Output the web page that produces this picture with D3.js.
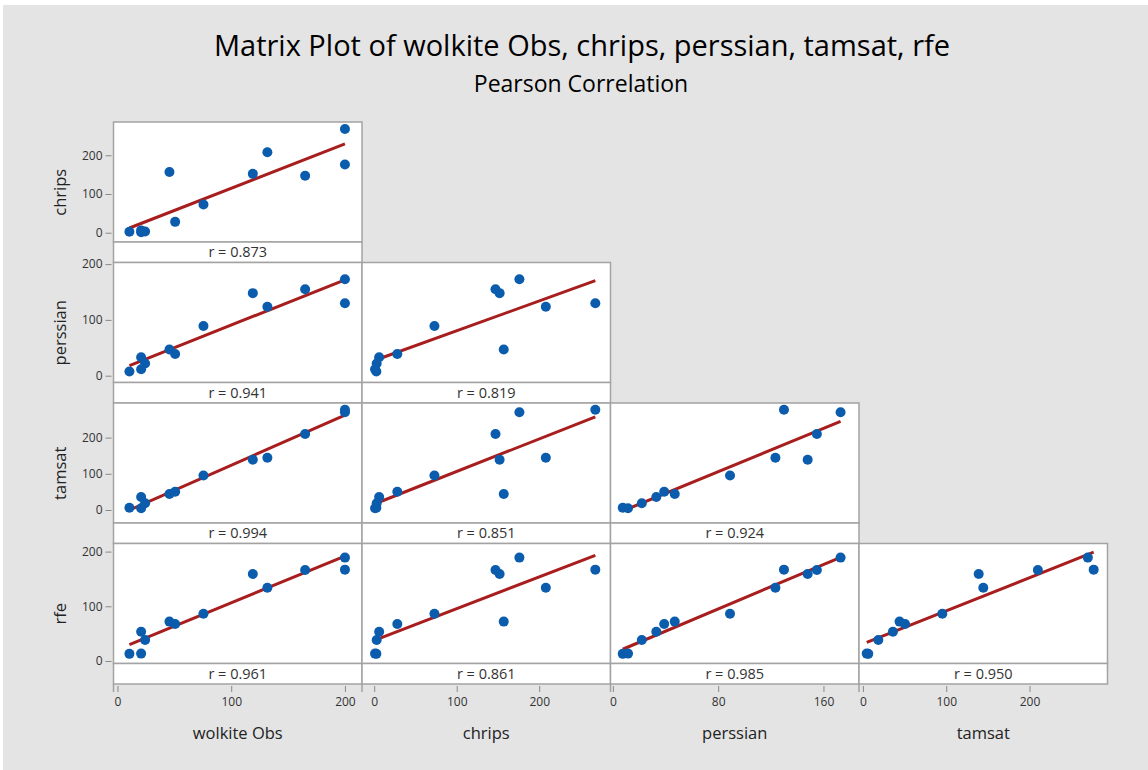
<!DOCTYPE html>
<html>
<head>
<meta charset="utf-8">
<script src="https://cdn.jsdelivr.net/npm/d3@7"></script>
<style>
  html, body { margin: 0; padding: 0; background: #fff; }
  text { font-family: "Open Sans", "Noto Sans", sans-serif; }
</style>
</head>
<body>
<div id="chart"></div>
<script>
// variables of the matrix plot
const varNames = ['wolkite Obs', 'chrips', 'perssian', 'tamsat', 'rfe'];

const wolkiteObs = [10.5, 20.8, 20.8, 24.3, 45.7, 50.7, 75.6, 119, 131.8, 165, 200, 200];
const chrips     = [2.6, 1, 6, 3, 157, 28, 73, 152, 208, 147, 176, 268];
const perssian   = [7.5, 11.5, 33, 22, 47, 39, 89, 148, 123.5, 155, 173, 130];
const tamsat     = [6.4, 4.6, 36, 18.5, 44, 50.6, 95.3, 139, 144.5, 210, 270, 277];
const rfe        = [13, 13.5, 53.6, 38.4, 72, 67.5, 86.5, 159, 134, 166.5, 189, 167];

// pearson r labels, row by row (lower triangle)
const rLabels = [
  ['0.873'],
  ['0.941', '0.819'],
  ['0.994', '0.851', '0.924'],
  ['0.961', '0.861', '0.985', '0.950']
];

// tick values: bottom axes per column, left axes per row
const xTicks = [
  [0, 100, 200],
  [0, 100, 200],
  [0, 80, 160],
  [0, 100, 200]
];
const yTicks = [
  null,
  [0, 100, 200],
  [0, 100, 200],
  [0, 100, 200],
  [0, 100, 200]
];

const series = [wolkiteObs, chrips, perssian, tamsat, rfe];

// axis domains (as minitab scaled them)
const xDomains = [[-3.5, 215], [-14.8, 286.4], [-1.8, 187], [-4.7, 293.6]];
const yDomains = [null, [-24, 286], [-12.2, 202.9], [-35.9, 295.6], [-4.6, 214.8]];

const width = 1148, height = 770;
const marginLeft = 113.5, marginTop = 122;
const colW = 248.5, rowH = 140.5, stripH = 20.5;
const plotH = rowH - stripH;

const svg = d3.select('#chart')
  .append('svg')
  .attr('width', width)
  .attr('height', height);

// background
svg.append('rect')
  .attr('x', 3).attr('y', 5)
  .attr('width', width - 3).attr('height', height - 5)
  .attr('fill', '#e4e4e4');

// titles
svg.append('text')
  .attr('x', 582).attr('y', 56)
  .attr('text-anchor', 'middle')
  .attr('font-size', 29)
  .attr('font-weight', 500)
  .attr('fill', '#000')
  .text('Matrix Plot of wolkite Obs, chrips, perssian, tamsat, rfe');

svg.append('text')
  .attr('x', 581).attr('y', 92)
  .attr('text-anchor', 'middle')
  .attr('font-size', 23)
  .attr('font-weight', 500)
  .attr('fill', '#000')
  .text('Pearson Correlation');

// x scales per column
const xScales = xDomains.map((dom, j) => d3.scaleLinear()
  .domain(dom)
  .range([marginLeft + j * colW, marginLeft + (j + 1) * colW]));

// y scales per row (row index = variable index)
const yScales = yDomains.map((dom, i) => {
  if (!dom) return null;
  const rowTop = marginTop + (i - 1) * rowH;
  return d3.scaleLinear().domain(dom).range([rowTop + plotH, rowTop]);
});

// simple least squares fit
function fit(xs, ys) {
  const mx = d3.mean(xs), my = d3.mean(ys);
  let sxy = 0, sxx = 0;
  xs.forEach((x, k) => { sxy += (x - mx) * (ys[k] - my); sxx += (x - mx) * (x - mx); });
  const b = sxy / sxx;
  return { a: my - b * mx, b: b };
}

const borderColor = '#a3a3a3';

for (let i = 1; i < 5; i++) {
  const rowTop = marginTop + (i - 1) * rowH;
  const y = yScales[i];

  for (let j = 0; j < i; j++) {
    const x = xScales[j];
    const x0 = marginLeft + j * colW;
    const g = svg.append('g');

    // plot area + strip
    g.append('rect')
      .attr('x', x0).attr('y', rowTop)
      .attr('width', colW).attr('height', plotH)
      .attr('fill', '#fff')
      .attr('stroke', borderColor).attr('stroke-width', 1.5);
    g.append('rect')
      .attr('x', x0).attr('y', rowTop + plotH)
      .attr('width', colW).attr('height', stripH)
      .attr('fill', '#fff')
      .attr('stroke', borderColor).attr('stroke-width', 1.5);

    g.append('text')
      .attr('x', x0 + colW / 2).attr('y', rowTop + plotH + stripH / 2 + 5)
      .attr('text-anchor', 'middle')
      .attr('font-size', 14.5)
      .attr('fill', '#333')
      .text('r = ' + rLabels[i - 1][j]);

    const xs = series[j], ys = series[i];
    const pts = xs.map((v, k) => [v, ys[k]]);

    // fitted line across the x range
    const f = fit(xs, ys);
    const ext = d3.extent(xs);
    g.append('line')
      .attr('x1', x(ext[0])).attr('y1', y(f.a + f.b * ext[0]))
      .attr('x2', x(ext[1])).attr('y2', y(f.a + f.b * ext[1]))
      .attr('stroke', '#a81d1d')
      .attr('stroke-width', 3);

    g.selectAll('circle')
      .data(pts)
      .enter().append('circle')
      .attr('cx', (d) => x(d[0]))
      .attr('cy', (d) => y(d[1]))
      .attr('r', 5)
      .attr('fill', '#0b5cad');
  }

  // y axis on the left column
  const yAxis = svg.append('g')
    .attr('transform', 'translate(' + (marginLeft - 2) + ',0)')
    .call(d3.axisLeft(y).tickValues(yTicks[i]).tickSize(6).tickPadding(3));
  yAxis.select('.domain').remove();
  yAxis.selectAll('.tick line').attr('stroke', '#888');
  yAxis.selectAll('.tick text')
    .attr('font-size', 12).attr('fill', '#333')
    .attr('font-family', '"Open Sans", sans-serif');

  svg.append('text')
    .attr('transform', 'translate(66,' + (rowTop + rowH / 2) + ') rotate(-90)')
    .attr('text-anchor', 'middle')
    .attr('font-size', 16.5)
    .attr('fill', '#222')
    .text(varNames[i]);
}

// x axes along the bottom
const axisY = marginTop + 4 * rowH + 2;
for (let j = 0; j < 4; j++) {
  const xAxis = svg.append('g')
    .attr('transform', 'translate(0,' + axisY + ')')
    .call(d3.axisBottom(xScales[j]).tickValues(xTicks[j]).tickSize(6).tickPadding(5));
  xAxis.select('.domain').remove();
  xAxis.selectAll('.tick line').attr('stroke', '#888');
  xAxis.selectAll('.tick text')
    .attr('font-size', 12).attr('fill', '#333')
    .attr('font-family', '"Open Sans", sans-serif');

  // column separator below the last row
  svg.append('line')
    .attr('x1', marginLeft + j * colW).attr('x2', marginLeft + j * colW)
    .attr('y1', axisY - 2).attr('y2', axisY + 6)
    .attr('stroke', borderColor).attr('stroke-width', 1.5);

  svg.append('text')
    .attr('x', marginLeft + j * colW + colW / 2).attr('y', 739)
    .attr('text-anchor', 'middle')
    .attr('font-size', 16.5)
    .attr('fill', '#222')
    .text(varNames[j]);
}
</script>
</body>
</html>
